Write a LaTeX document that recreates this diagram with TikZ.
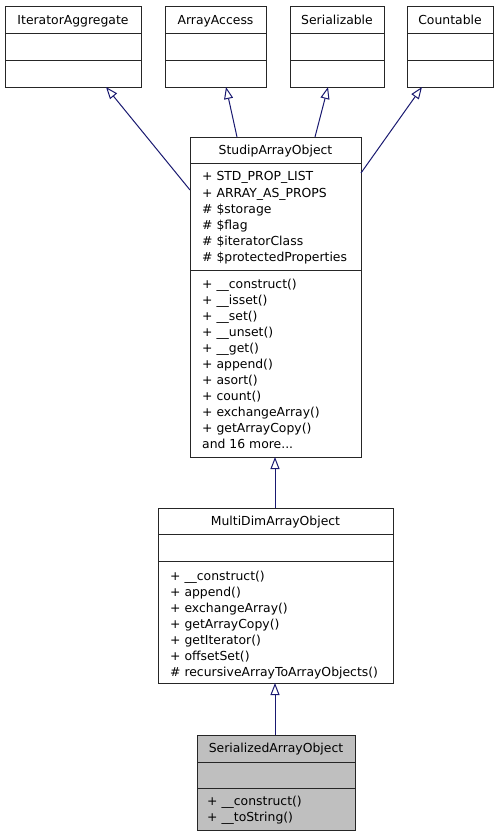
\documentclass[tikz,border=0pt]{standalone}
\usepackage{fontspec}
\setmainfont{DejaVu Sans}
\usetikzlibrary{arrows.meta,calc}
\definecolor{edgeblue}{HTML}{191970}
\definecolor{boxgray}{HTML}{BFBFBF}
\newcommand\moremembers{and 16 more...}
\tikzset{
  classbox/.style={draw=black!85, line width=0.9pt, rectangle, anchor=north west, inner sep=0pt, outer sep=0pt},
  divider/.style={draw=black!85, line width=0.9pt},
  title/.style={font=\fontsize{12.4}{15}\selectfont, inner sep=0pt, anchor=base},
  member/.style={font=\fontsize{12.4}{15}\selectfont, inner sep=0pt, anchor=base west},
  inherit/.style={draw=edgeblue, line width=1pt, -{Triangle[open, length=12pt, width=9pt, fill=white]}},
}
\begin{document}
\begin{tikzpicture}[x=1pt,y=-1pt]
\useasboundingbox (0,0) rectangle (499,837);
% top interfaces
\node[classbox, minimum width=136pt, minimum height=81pt] (ia) at (5,6) {};
\draw[divider] (5,33) -- (141,33); \draw[divider] (5,60) -- (141,60);
\node[title] (iat) at (73,24.5) {IteratorAggregate};
\node[classbox, minimum width=101pt, minimum height=81pt] (aa) at (165,6) {};
\draw[divider] (165,33) -- (266,33); \draw[divider] (165,60) -- (266,60);
\node[title] (aat) at (215.5,24.5) {ArrayAccess};
\node[classbox, minimum width=94pt, minimum height=81pt] (se) at (290,6) {};
\draw[divider] (290,33) -- (384,33); \draw[divider] (290,60) -- (384,60);
\node[title] (set) at (337,24.5) {Serializable};
\node[classbox, minimum width=86pt, minimum height=81pt] (co) at (407,6) {};
\draw[divider] (407,33) -- (493,33); \draw[divider] (407,60) -- (493,60);
\node[title] (cot) at (450,24.5) {Countable};
% StudipArrayObject
\node[classbox, minimum width=171pt, minimum height=320pt] (sao) at (190,137) {};
\draw[divider] (190,163) -- (361,163); \draw[divider] (190,270) -- (361,270);
\node[title] (saot) at (275.5,155) {StudipArrayObject};
\foreach \t [count=\i from 0] in {+ STD\_PROP\_LIST, + ARRAY\_AS\_PROPS, \# \$storage, \# \$flag, \# \$iteratorClass, \# \$protectedProperties}
  \node[member] (saoa\i) at (202,181+16*\i) {\t};
\foreach \t [count=\i from 0] in {+ \_\_construct(), + \_\_isset(), + \_\_set(), + \_\_unset(), + \_\_get(), + append(), + asort(), + count(), + exchangeArray(), + getArrayCopy(), \moremembers}
  \node[member] (saom\i) at (202,288.5+16*\i) {\t};
% MultiDimArrayObject
\node[classbox, minimum width=235pt, minimum height=175pt] (mdao) at (158,508) {};
\draw[divider] (158,534) -- (393,534); \draw[divider] (158,561) -- (393,561);
\node[title] (mdaot) at (275.5,525.5) {MultiDimArrayObject};
\foreach \t [count=\i from 0] in {+ \_\_construct(), + append(), + exchangeArray(), + getArrayCopy(), + getIterator(), + offsetSet(), \# recursiveArrayToArrayObjects()}
  \node[member] (mdaom\i) at (170,580+16*\i) {\t};
% SerializedArrayObject
\node[classbox, fill=boxgray, minimum width=158pt, minimum height=95pt] (srao) at (197,735) {};
\draw[divider] (197,762) -- (355,762); \draw[divider] (197,788) -- (355,788);
\node[title] (sraot) at (276,752) {SerializedArrayObject};
\foreach \t [count=\i from 0] in {+ \_\_construct(), + \_\_toString()}
  \node[member] (sraom\i) at (207,805+16*\i) {\t};
% inheritance
\draw[inherit] ($(srao.north west)+(78,0)$) -- ($(mdao.south west)+(117,0)$);
\draw[inherit] ($(mdao.north west)+(117,0)$) -- ($(sao.south west)+(85,0)$);
\draw[inherit] ($(sao.north west)+(0,53)$) -- ($(ia.south west)+(101,0)$);
\draw[inherit] ($(sao.north west)+(47,0)$) -- ($(aa.south west)+(61,0)$);
\draw[inherit] ($(sao.north west)+(125,0)$) -- ($(se.south west)+(38,0)$);
\draw[inherit] ($(sao.north east)+(0,36)$) -- ($(co.south west)+(15,0)$);
\end{tikzpicture}
\end{document}
